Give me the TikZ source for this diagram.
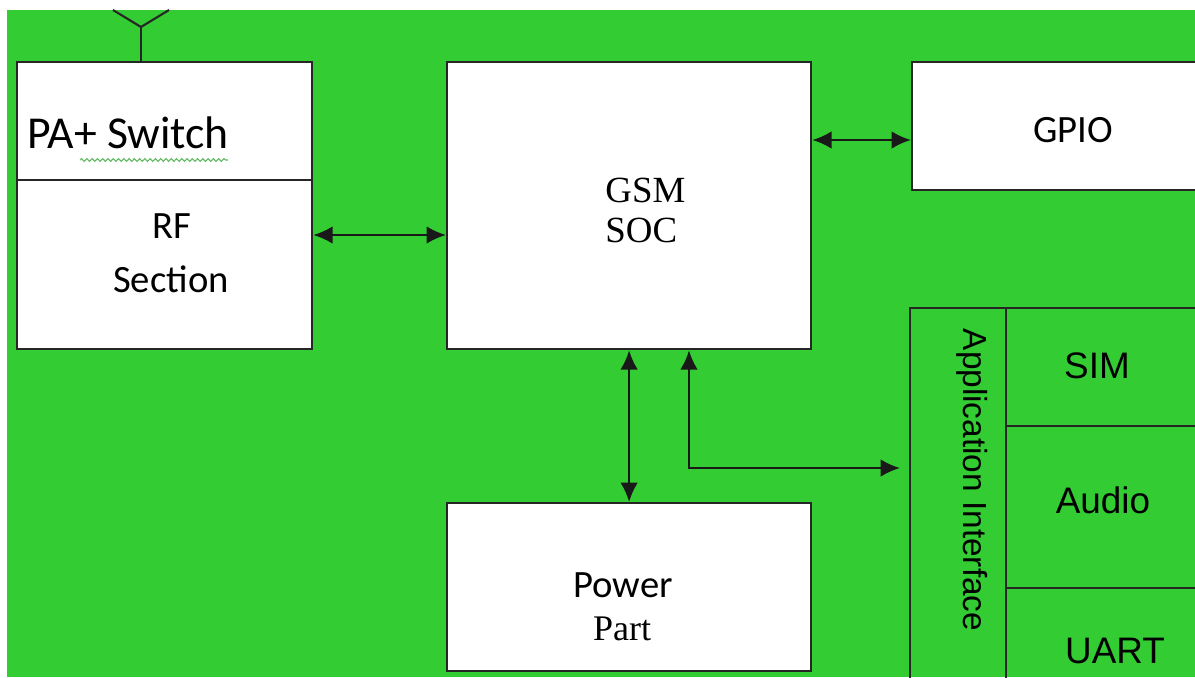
\documentclass[tikz,border=0pt]{standalone}
\usepackage{fontspec}
\setmainfont{Liberation Serif}
\setsansfont{Liberation Sans}
\newfontfamily\calibri{Carlito}
\usepackage{xcolor}
\usepackage{tikz}
\usetikzlibrary{arrows.meta,decorations.pathmorphing}
\definecolor{bggreen}{RGB}{51,204,51}
\definecolor{edge}{RGB}{38,38,38}
\definecolor{squig}{RGB}{95,185,95}

\begin{document}
\begin{tikzpicture}[x=0.02cm,y=-0.02cm,>={Latex[length=11pt,width=10pt]}]
  \tikzstyle{block}=[draw=edge,line width=1.3pt,fill=white,inner sep=0pt,anchor=north west]
  \tikzstyle{cell}=[draw=edge,line width=1.3pt,inner sep=0pt,anchor=north west]
  \tikzstyle{txtcal}=[inner sep=0pt,font=\calibri\fontsize{22}{26}\selectfont]
  \tikzstyle{txtsans}=[inner sep=0pt,font=\sffamily\fontsize{21}{25}\selectfont]
  \tikzstyle{txtserif}=[inner sep=0pt,font=\rmfamily\fontsize{21}{25}\selectfont]
  \tikzstyle{link}=[<->,line width=1.4pt,black!90]
  \useasboundingbox (0,0) rectangle (1195,677);
  \fill[white] (0,0) rectangle (1195,677);
  \clip (0,0) rectangle (1195,677);
  \fill[bggreen] (7,10) rectangle (1195,677);
  % blocks
  \node[block,minimum width=5.9cm,minimum height=2.36cm] (pa) at (16,61) {};
  \node[block,minimum width=5.9cm,minimum height=3.38cm] (rf) at (16,179) {};
  \node[block,minimum width=7.28cm,minimum height=5.74cm] (gsm) at (446,61) {};
  \node[block,minimum width=7.28cm,minimum height=3.36cm] (power) at (446,502) {};
  \node[block,minimum width=5.98cm,minimum height=2.56cm] (gpio) at (911,61) {};
  \node[cell,minimum width=1.92cm,minimum height=7.66cm] (appif) at (909,307) {};
  \node[cell,minimum width=4.1cm,minimum height=2.36cm] (sim) at (1005,307) {};
  \node[cell,minimum width=4.1cm,minimum height=3.24cm] (audio) at (1005,425) {};
  \node[cell,minimum width=4.1cm,minimum height=2.06cm] (uart) at (1005,587) {};
  % texts
  \node[txtcal,anchor=base west,font=\calibri\fontsize{26}{30}\selectfont] (patxt) at (27,148) {PA+ Switch};
  \draw[squig,line width=0.6pt,decorate,decoration={snake,amplitude=0.8pt,segment length=3pt}] (80,160) -- (228,160);
  \node[txtcal,anchor=base] (rftxt) at (172,238) {RF};
  \node[txtcal,anchor=base] (sectxt) at (171,292) {Section};
  \node[txtserif,anchor=base west] (gsmtxt) at (605,202) {GSM};
  \node[txtserif,anchor=base west] (soctxt) at (605,242) {SOC};
  \node[txtcal,anchor=base] (gpiotxt) at (1073,142) {GPIO};
  \node[txtcal,anchor=base] (powtxt) at (623,597) {Power};
  \node[txtserif,anchor=base,font=\rmfamily\fontsize{20.5}{25}\selectfont] (parttxt) at (622,640) {Part};
  \node[txtsans,anchor=base] (simtxt) at (1097,378) {SIM};
  \node[txtsans,anchor=base] (audtxt) at (1103,513) {Audio};
  \node[txtsans,anchor=base] (uarttxt) at (1115,663) {UART};
  \node[txtsans,anchor=base,rotate=-90,font=\sffamily\fontsize{19}{23}\selectfont] (apptxt) at (963,480) {Application Interface};
  % antenna
  \coordinate (mast) at (141,27);
  \draw[edge,line width=1.2pt] (mast |- pa.north) -- (mast);
  \draw[edge,line width=1.2pt] (113,10) -- (mast) -- (169,10);
  % links
  \coordinate (rfbus) at (0,235);
  \coordinate (gpiobus) at (0,140);
  \coordinate (appbend) at (689,468);
  \draw[link] (rfbus -| rf.east) -- (rfbus -| gsm.west);
  \draw[link] (gpiobus -| gsm.east) -- (gpiobus -| gpio.west);
  \draw[link] (gsm.south) -- (power.north);
  \draw[link] (appbend |- gsm.south) -- (appbend) -- ([xshift=-0.18cm]appbend -| appif.west);
\end{tikzpicture}
\end{document}
